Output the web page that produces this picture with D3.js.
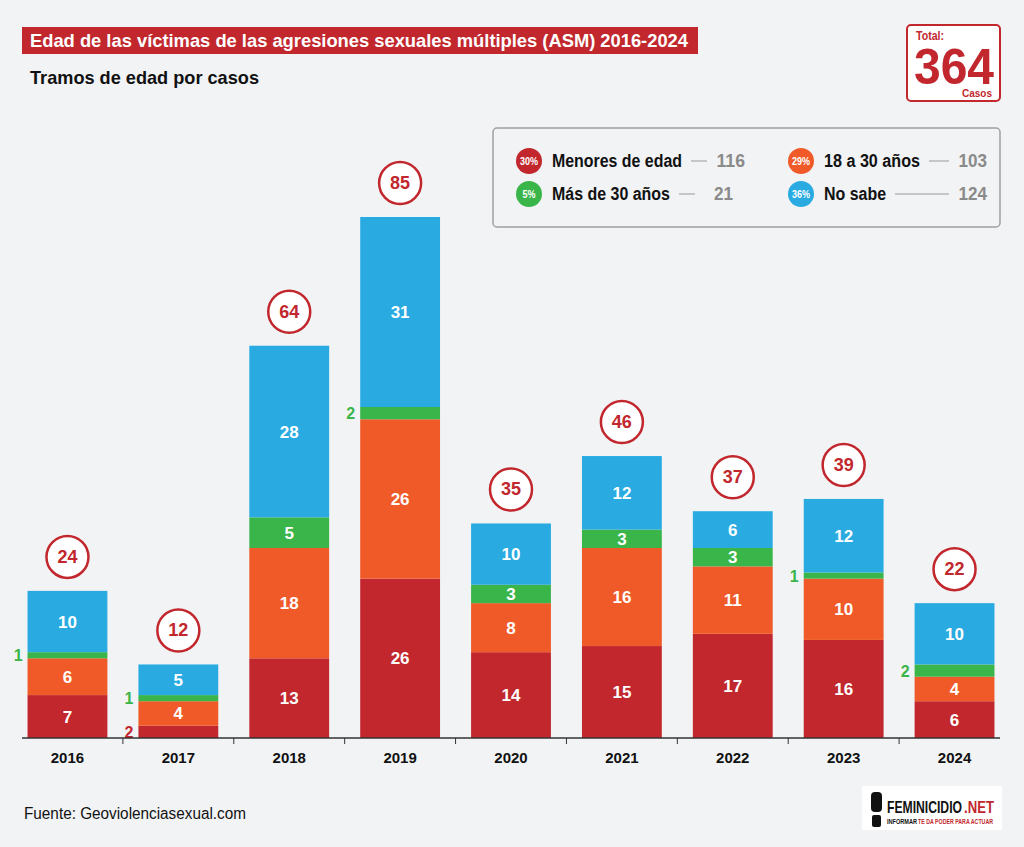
<!DOCTYPE html>
<html><head><meta charset="utf-8">
<script src="https://cdn.jsdelivr.net/npm/d3@7"></script>
<style>
body{margin:0;background:#f2f3f5;}
text{font-family:"Liberation Sans Narrow","Liberation Sans",Arial,sans-serif;font-weight:bold;}
</style></head><body>
<div id="chart"></div>
<script>
// data
const years = ["2016","2017","2018","2019","2020","2021","2022","2023","2024"];
const menores = [7,2,13,26,14,15,17,16,6];
const de18a30 = [6,4,18,26,8,16,11,10,4];
const mas30 = [1,1,5,2,3,3,3,1,2];
const noSabe = [10,5,28,31,10,12,6,12,10];
const seriesNames = ["Menores de edad","18 a 30 años","Más de 30 años","No sabe"];
const seriesPct = ["30%","29%","5%","36%"];
const seriesTotals = [116,103,21,124];
const colors = ["#c1272d","#f05a28","#39b54a","#29abe2"];

const W = 1024, H = 847;
const svg = d3.select("#chart").append("svg").attr("width", W).attr("height", H);
svg.append("rect").attr("width", W).attr("height", H).attr("fill", "#f2f3f5");

const rows = years.map((y, i) => ({year: y, s0: menores[i], s1: de18a30[i], s2: mas30[i], s3: noSabe[i]}));
const stack = d3.stack().keys(["s0","s1","s2","s3"])(rows);

const x = d3.scaleBand().domain(years).range([22, 1000]).paddingInner(0.28).paddingOuter(0.05);
const y = d3.scaleLinear().domain([0, 85]).range([738, 217]);

// bars
stack.forEach((layer, k) => {
	const g = svg.append("g");
	layer.forEach((d, i) => {
		const v = d[1] - d[0];
		const bx = x(years[i]);
		g.append("rect").attr("x", bx).attr("y", y(d[1])).attr("width", x.bandwidth())
			.attr("height", y(d[0]) - y(d[1])).attr("fill", colors[k]);
		const cy = (y(d[0]) + y(d[1])) / 2 + 6;
		if (v > 2) {
			g.append("text").attr("x", bx + x.bandwidth()/2).attr("y", cy).attr("text-anchor","middle")
				.attr("fill","white").attr("font-size",17).text(v);
		} else {
			g.append("text").attr("x", bx - 5).attr("y", cy).attr("text-anchor","end")
				.attr("fill", colors[k]).attr("font-size",16).text(v);
		}
	});
});

// totals
rows.forEach((r, i) => {
	const tot = r.s0 + r.s1 + r.s2 + r.s3;
	const cx = x(r.year) + x.bandwidth()/2, cy = y(tot) - 34;
	svg.append("circle").attr("cx", cx).attr("cy", cy).attr("r", 21)
		.attr("fill","white").attr("stroke","#c1272d").attr("stroke-width",2.5);
	svg.append("text").attr("x", cx).attr("y", cy + 6).attr("text-anchor","middle")
		.attr("fill","#c1272d").attr("font-size",18).text(tot);
});

// axis
const xAxis = d3.axisBottom(x).tickSize(0).tickPadding(14);
const ax = svg.append("g").attr("transform","translate(0,738)").call(xAxis);
ax.select(".domain").attr("stroke","#333").attr("stroke-width",1.5).attr("d","M22,0H1000");
ax.selectAll("text").attr("font-size",15).attr("fill","#111")
	.style("font-family","'Liberation Sans Narrow','Liberation Sans',Arial").style("font-weight","bold");
years.forEach((yr, i) => {
	if (i === 0) return;
	const tx = x(yr) - x.step()*x.paddingInner()/2;
	ax.append("line").attr("x1", tx).attr("x2", tx).attr("y1", 0).attr("y2", 6).attr("stroke","#333");
});

// title
svg.append("rect").attr("x",22).attr("y",27).attr("width",676).attr("height",27).attr("fill","#c1272d");
svg.append("text").attr("x",30).attr("y",47).attr("fill","white").attr("font-size",19)
	.attr("textLength",658).attr("lengthAdjust","spacingAndGlyphs")
	.text("Edad de las víctimas de las agresiones sexuales múltiples (ASM) 2016-2024");
svg.append("text").attr("x",30).attr("y",84).attr("fill","#111").attr("font-size",19)
	.attr("textLength",229).attr("lengthAdjust","spacingAndGlyphs")
	.text("Tramos de edad por casos");

// total box
svg.append("rect").attr("x",907).attr("y",25).attr("width",93).attr("height",76).attr("rx",4)
	.attr("fill","white").attr("stroke","#c1272d").attr("stroke-width",2);
svg.append("text").attr("x",916).attr("y",40).attr("fill","#c1272d").attr("font-size",12)
	.attr("textLength",28).attr("lengthAdjust","spacingAndGlyphs").text("Total:");
svg.append("text").attr("x",914).attr("y",84).attr("fill","#c1272d")
	.attr("font-size",50).attr("textLength",80).attr("lengthAdjust","spacingAndGlyphs").text("364");
svg.append("text").attr("x",992).attr("y",97).attr("text-anchor","end").attr("fill","#c1272d")
	.attr("font-size",10).attr("textLength",30).attr("lengthAdjust","spacingAndGlyphs").text("Casos");

// legend
svg.append("rect").attr("x",493).attr("y",128).attr("width",507).attr("height",99).attr("rx",4)
	.attr("fill","#f2f3f5").attr("stroke","#a0a0a0").attr("stroke-width",1.5);
const legPos = [[529,161,707,745],[801,161,980,987],[529,194,700,733],[801,194,975,987]];
const textLen = [130,96,118,62];
seriesNames.forEach((n, k) => {
	const [lx, ly, lineEnd, numX] = legPos[k];
	svg.append("circle").attr("cx", lx).attr("cy", ly).attr("r", 13).attr("fill", colors[k]);
	svg.append("text").attr("x", lx).attr("y", ly + 4).attr("text-anchor","middle").attr("fill","white")
		.attr("font-size",10).attr("textLength", seriesPct[k].length > 2 ? 18 : 13)
		.attr("lengthAdjust","spacingAndGlyphs").text(seriesPct[k]);
	svg.append("text").attr("x", lx + 23).attr("y", ly + 6).attr("fill","#111").attr("font-size",18)
		.attr("textLength", textLen[k]).attr("lengthAdjust","spacingAndGlyphs").text(n);
	svg.append("line").attr("x1", lx + 23 + textLen[k] + 9).attr("x2", numX - 38).attr("y1", ly).attr("y2", ly)
		.attr("stroke","#999").attr("stroke-width",1);
	svg.append("text").attr("x", numX).attr("y", ly + 6).attr("text-anchor","end").attr("fill","#8a8a8a")
		.attr("font-size",18).attr("textLength", String(seriesTotals[k]).length * 9.5)
		.attr("lengthAdjust","spacingAndGlyphs").text(seriesTotals[k]);
});

// footer
svg.append("text").attr("x",24).attr("y",819).attr("fill","#111").attr("font-size",16)
	.attr("textLength",222).attr("lengthAdjust","spacingAndGlyphs")
	.style("font-weight","normal").text("Fuente: Geoviolenciasexual.com");
svg.append("rect").attr("x",862).attr("y",786).attr("width",140).attr("height",44).attr("fill","white");
svg.append("text").attr("x",887).attr("y",813).attr("fill","#111").attr("font-size",17)
	.attr("textLength",75).attr("lengthAdjust","spacingAndGlyphs").text("FEMINICIDIO");
svg.append("text").attr("x",964).attr("y",813).attr("fill","#c1272d").attr("font-size",17)
	.attr("textLength",30).attr("lengthAdjust","spacingAndGlyphs").text(".NET");
svg.append("text").attr("x",887).attr("y",824).attr("fill","#111").attr("font-size",7)
	.attr("textLength",30).attr("lengthAdjust","spacingAndGlyphs").text("INFORMAR");
svg.append("text").attr("x",918).attr("y",824).attr("fill","#c1272d").attr("font-size",7)
	.attr("textLength",75).attr("lengthAdjust","spacingAndGlyphs").text("TE DA PODER PARA ACTUAR");
svg.append("rect").attr("x",871).attr("y",792).attr("width",11).attr("height",20).attr("rx",4).attr("fill","#111");
svg.append("rect").attr("x",872).attr("y",815).attr("width",9).attr("height",12).attr("rx",2).attr("fill","#111");
</script>
</body></html>
